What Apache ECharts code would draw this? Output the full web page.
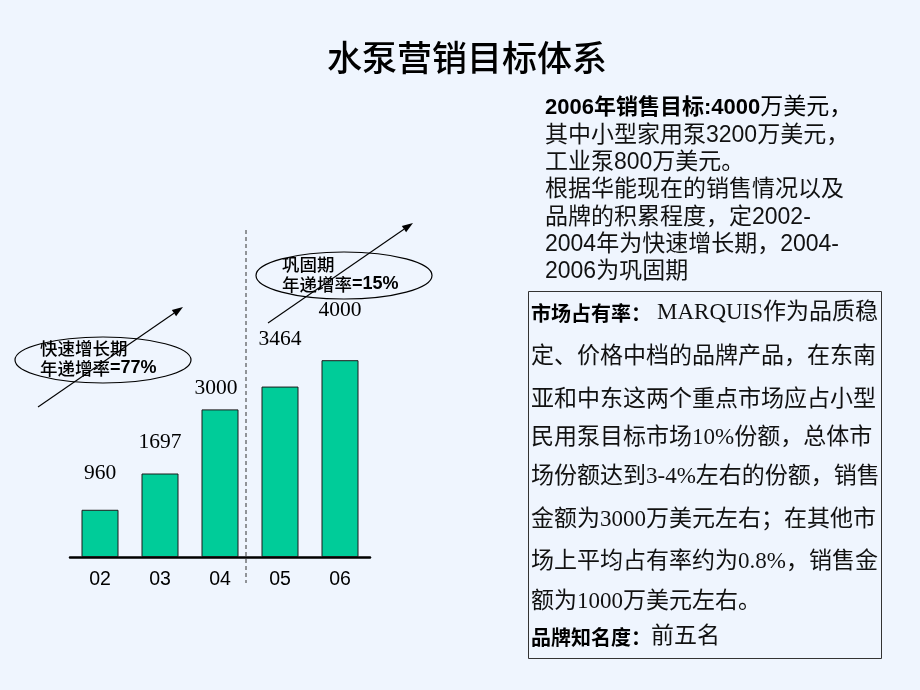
<!DOCTYPE html>
<html>
<head>
<meta charset="utf-8">
<script src="https://cdn.jsdelivr.net/npm/echarts@6/dist/echarts.min.js"></script>
<style>
html,body{margin:0;padding:0;background:#EFF5FE;}
#chart{width:920px;height:690px;}
</style>
</head>
<body>
<div id="chart"></div>
<script>
// ---- data ----
const categories = ['02', '03', '04', '05', '06'];
const salesValues = [960, 1697, 3000, 3464, 4000];
const titleText = '水泵营销目标体系';
const introLines = [
  '其中小型家用泵3200万美元，',
  '工业泵800万美元。',
  '根据华能现在的销售情况以及',
  '品牌的积累程度，定2002-',
  '2004年为快速增长期，2004-',
  '2006为巩固期'
];
const boxLines = [
  '定、价格中档的品牌产品，在东南',
  '亚和中东这两个重点市场应占小型',
  '民用泵目标市场10%份额，总体市',
  '场份额达到3-4%左右的份额，销售',
  '金额为3000万美元左右；在其他市',
  '场上平均占有率约为0.8%，销售金',
  '额为1000万美元左右。'
];

// ---- presentation ----
const labelGap = [25, 20, 10, 36, 39];
const SANS = '"Liberation Sans", "Noto Sans CJK SC", sans-serif';
const SERIF = '"Liberation Serif", "Noto Sans CJK SC", serif';

const chart = echarts.init(document.getElementById('chart'));

function arrow(x1, y1, x2, y2) {
  const dx = x2 - x1, dy = y2 - y1, L = Math.hypot(dx, dy);
  const ux = dx / L, uy = dy / L, px = -uy, py = ux;
  const hl = 11, hw = 3.8;
  const bx = x2 - ux * hl, by = y2 - uy * hl;
  return [
    { type: 'line', shape: { x1, y1, x2: bx, y2: by }, style: { stroke: '#000', lineWidth: 1.1 } },
    { type: 'polygon', shape: { points: [[x2, y2], [bx + px * hw, by + py * hw], [bx - px * hw, by - py * hw]] }, style: { fill: '#000' } }
  ];
}

const graphics = [];
// title
graphics.push({ type: 'text', style: { text: titleText, x: 467, y: 58, textAlign: 'center', textVerticalAlign: 'middle', fontSize: 35, fontWeight: 500, fontFamily: '"Noto Sans CJK SC"', fill: '#000' } });
// dashed separator
graphics.push({ type: 'line', shape: { x1: 246, y1: 230, x2: 246, y2: 583 }, style: { stroke: '#333', lineWidth: 1, lineDash: [4, 3] } });
// ellipses
graphics.push({ type: 'ellipse', shape: { cx: 103, cy: 360, rx: 88, ry: 23 }, style: { fill: 'none', stroke: '#000', lineWidth: 1.2 } });
graphics.push({ type: 'ellipse', shape: { cx: 344, cy: 275.5, rx: 88, ry: 23.5 }, style: { fill: 'none', stroke: '#000', lineWidth: 1.2 } });
// ellipse texts
const ellRich = { n: { fontSize: 17.5, fontWeight: 500, fontFamily: '"Noto Sans CJK SC"', fill: '#000' }, b: { fontSize: 18, fontWeight: 'bold', fontFamily: '"Liberation Sans"', fill: '#000' } };
graphics.push({ type: 'text', style: { text: '{n|快速增长期}', rich: ellRich, x: 40, y: 348, textVerticalAlign: 'middle' } });
graphics.push({ type: 'text', style: { text: '{n|年递增率}{b|=77%}', rich: ellRich, x: 40, y: 368, textVerticalAlign: 'middle' } });
graphics.push({ type: 'text', style: { text: '{n|巩固期}', rich: ellRich, x: 282, y: 264, textVerticalAlign: 'middle' } });
graphics.push({ type: 'text', style: { text: '{n|年递增率}{b|=15%}', rich: ellRich, x: 282, y: 284, textVerticalAlign: 'middle' } });
// arrows
graphics.push(...arrow(38, 407, 183, 307));
graphics.push(...arrow(268, 323, 413, 223));
// right intro text
graphics.push({ type: 'text', style: {
  text: '{b|2006年销售目标:4000}{n|万美元，}',
  rich: { b: { fontSize: 22, fontWeight: 'bold', fontFamily: SANS, fill: '#000' }, n: { fontSize: 23, fontFamily: SANS, fill: '#000' } },
  x: 545, y: 108, textVerticalAlign: 'middle' } });
introLines.forEach((t, i) => {
  graphics.push({ type: 'text', style: { text: t, x: 545, y: 135.5 + i * 27.3, textVerticalAlign: 'middle', fontSize: 23, fontFamily: SANS, fill: '#111' } });
});
// bordered box
graphics.push({ type: 'rect', shape: { x: 528.5, y: 291.5, width: 353, height: 367 }, style: { fill: 'none', stroke: '#333', lineWidth: 1 } });
const boxRich = {
  b: { fontSize: 20, fontWeight: 'bold', fontFamily: '"Noto Sans CJK SC"', fill: '#000' },
  n: { fontSize: 23, fontFamily: SERIF, fill: '#111' },
  g: { width: 6, fontSize: 20 }
};
graphics.push({ type: 'text', style: { text: '{b|市场占有率：}{g| }{n|MARQUIS作为品质稳}', rich: boxRich, x: 531, y: 313, textVerticalAlign: 'middle' } });
const boxY = [357, 400, 438, 477, 520, 562, 602];
boxLines.forEach((t, i) => {
  graphics.push({ type: 'text', style: { text: '{n|' + t + '}', rich: boxRich, x: 531, y: boxY[i], textVerticalAlign: 'middle' } });
});
graphics.push({ type: 'text', style: { text: '{b|品牌知名度：}{n|前五名}', rich: boxRich, x: 531, y: 637, textVerticalAlign: 'middle' } });

const option = {
  backgroundColor: '#EFF5FE',
  animation: false,
  grid: { left: 70, right: 550, top: 311, bottom: 133, containLabel: false },
  xAxis: {
    type: 'category',
    data: categories,
    axisLine: { show: true, lineStyle: { color: '#000', width: 2.5 } },
    axisTick: { show: false },
    axisLabel: { color: '#000', fontSize: 19.5, fontFamily: '"Liberation Sans"', margin: 13 }
  },
  yAxis: { type: 'value', min: 0, max: 5000, show: false, splitLine: { show: false } },
  series: [{
    type: 'bar',
    barWidth: 37,
    data: salesValues.map((v, i) => ({ value: v, label: { distance: labelGap[i], offset: i === 2 ? [-4, 0] : [0, 0] } })),
    itemStyle: { color: '#00CC99', borderColor: '#1a1a1a', borderWidth: 1 },
    label: { show: true, position: 'top', color: '#000', fontSize: 21.5, fontFamily: '"Liberation Serif"' },
    z: 2
  }],
  graphic: graphics
};
chart.setOption(option);
</script>
</body>
</html>
